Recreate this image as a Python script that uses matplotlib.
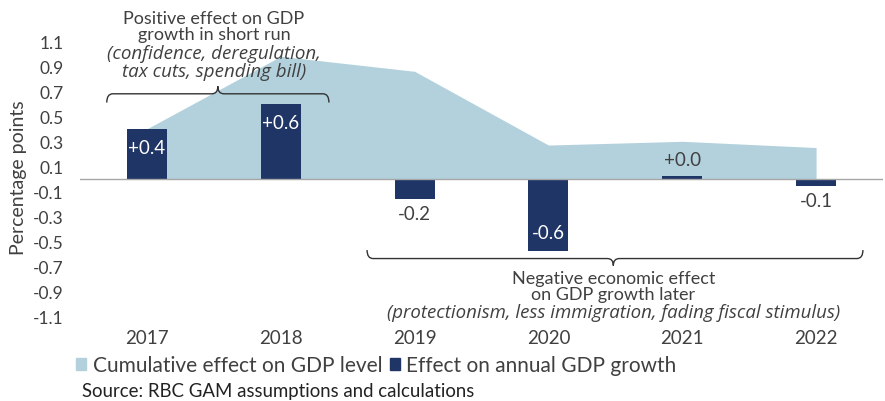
import matplotlib
matplotlib.use("Agg")
import matplotlib.pyplot as plt
from matplotlib.path import Path
from matplotlib.patches import PathPatch, Patch

plt.rcParams["font.family"] = ["Lato", "DejaVu Sans"]
plt.rcParams["axes.unicode_minus"] = False

years = ["2017", "2018", "2019", "2020", "2021", "2022"]
cumulative_level = [0.40, 0.98, 0.86, 0.27, 0.30, 0.25]
annual_growth = [0.40, 0.60, -0.16, -0.58, 0.02, -0.055]
ytick_values = [-1.1, -0.9, -0.7, -0.5, -0.3, -0.1, 0.1, 0.3, 0.5, 0.7, 0.9, 1.1]

AREA = "#B3D1DC"
BAR = "#1F3566"
TEXT = "#404040"
ITALIC = ["Open Sans", "DejaVu Sans"]

W, H = 885, 402
fig = plt.figure(figsize=(W / 100, H / 100), dpi=100)
y_lo, y_hi = -1.17, 1.2
px_per_unit = 125.0
zero_px = 179.8
top_px = zero_px - y_hi * px_per_unit
bot_px = zero_px - y_lo * px_per_unit
ax = fig.add_axes([80 / W, 1 - bot_px / H, 803 / W, (bot_px - top_px) / H])

x = list(range(len(years)))
ax.fill_between(x, 0, cumulative_level, color=AREA, lw=0, zorder=1)
ax.bar(x, annual_growth, width=0.3, color=BAR, zorder=2)
ax.axhline(0, color="#A6A6A6", lw=1.0, zorder=3)

ax.set_xlim(-0.5, len(years) - 0.5)
ax.set_ylim(y_lo, y_hi)
for s in ax.spines.values():
    s.set_visible(False)
ax.set_xticks(x)
ax.set_xticklabels(years, fontsize=13.5, color=TEXT)
ax.set_yticks(ytick_values)
ax.set_yticklabels([f"{v:.1f}" for v in ytick_values], fontsize=12.5, color=TEXT)
ax.tick_params(axis="both", length=0)
ax.tick_params(axis="x", pad=3)
ax.tick_params(axis="y", pad=12)
ax.set_ylabel("Percentage points", fontsize=14, color=TEXT, labelpad=4)

# value labels: large bars get white text inside the bar end, small ones grey text outside
for xi, v in zip(x, annual_growth):
    label = f"{v:+.1f}"
    if abs(v) >= 0.3:
        off = -19 if v > 0 else 19
        ax.annotate(label, (xi, v), xytext=(0, off), textcoords="offset pixels",
                    ha="center", va="center", color="white", fontsize=13.5, zorder=4)
    else:
        off = 17 if v > 0 else -15
        ax.annotate(label, (xi, v), xytext=(0, off), textcoords="offset pixels",
                    ha="center", va="center", color=TEXT, fontsize=13.5, zorder=4)


def brace(ax, x0, x1, xtip, y_end, y_mid, y_tip, rx=0.045):
    verts = [
        (x0, y_end), (x0, y_mid), (x0 + rx, y_mid),
        (xtip - rx, y_mid), (xtip, y_mid), (xtip, y_tip),
        (xtip, y_mid), (xtip + rx, y_mid),
        (x1 - rx, y_mid), (x1, y_mid), (x1, y_end),
    ]
    codes = [
        Path.MOVETO, Path.CURVE3, Path.CURVE3,
        Path.LINETO, Path.CURVE3, Path.CURVE3,
        Path.CURVE3, Path.CURVE3,
        Path.LINETO, Path.CURVE3, Path.CURVE3,
    ]
    ax.add_patch(PathPatch(Path(verts, codes), fill=False, ec="#333333", lw=1.0,
                           clip_on=False, zorder=5))


brace(ax, -0.30, 1.36, 0.53, 0.61, 0.68, 0.74)
brace(ax, 1.645, 5.35, 3.485, -0.57, -0.638, -0.694)

ax.text(0.50, 1.225, "Positive effect on GDP\ngrowth in short run", ha="center", va="center",
        fontsize=13, color=TEXT, linespacing=1.0, clip_on=False)
ax.text(0.50, 0.935, "(confidence, deregulation,\ntax cuts, spending bill)", ha="center", va="center",
        fontsize=13.5, color=TEXT, style="italic", family=ITALIC, linespacing=0.95, clip_on=False)

ax.text(3.485, -0.855, "Negative economic effect\non GDP growth later", ha="center", va="center",
        fontsize=13, color=TEXT, linespacing=1.0)
ax.text(3.485, -1.063, "(protectionism, less immigration, fading fiscal stimulus)", ha="center",
        va="center", fontsize=13.4, color=TEXT, style="italic", family=ITALIC)

handles = [Patch(color=AREA, label="Cumulative effect on GDP level"),
           Patch(color=BAR, label="Effect on annual GDP growth")]
fig.legend(handles=handles, loc="center left", bbox_to_anchor=(76 / W, 1 - 366 / H), ncol=2,
           frameon=False, fontsize=15, handlelength=0.5, handleheight=0.5, handletextpad=0.3,
           columnspacing=0.35, labelcolor=TEXT, borderaxespad=0, borderpad=0)

fig.text(82 / W, 1 - 392 / H, "Source: RBC GAM assumptions and calculations", ha="left",
         va="center", fontsize=13.4, color="#222222")

fig.savefig("out.png", dpi=100)
